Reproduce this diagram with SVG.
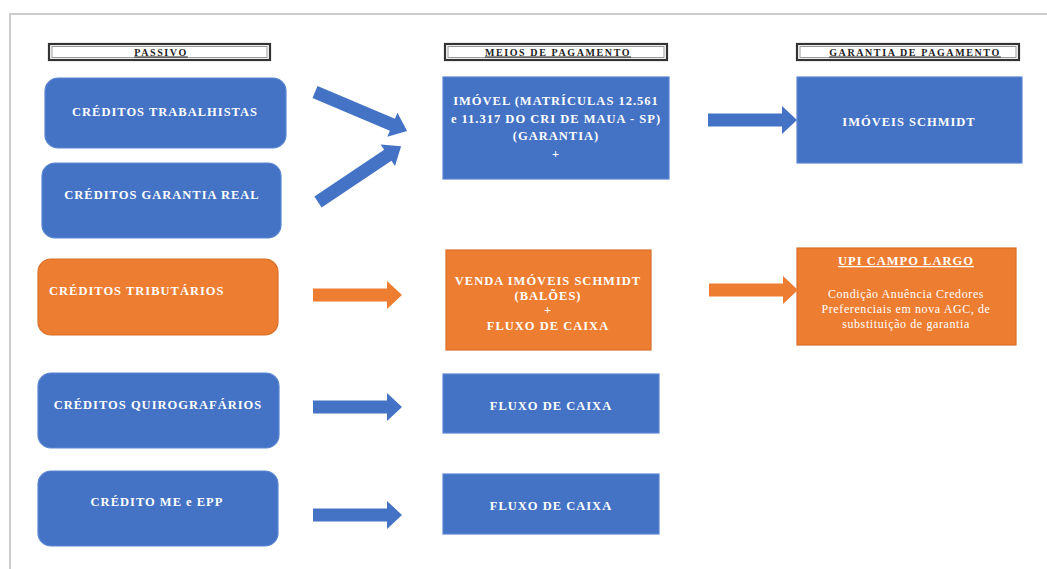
<svg xmlns="http://www.w3.org/2000/svg" width="1047" height="569" viewBox="0 0 1047 569">
<style>
.bg{fill:#ffffff}
.frame{fill:none;stroke:#cccccc;stroke-width:2}
.hdr{fill:#ffffff;stroke:#333333;stroke-width:2.2}
.hdrin{fill:none;stroke:#9a9a9a;stroke-width:1}
.htxt{font-family:"Liberation Serif",serif;font-weight:bold;font-size:10px;letter-spacing:1.6px;fill:#222222;text-anchor:middle;text-decoration:underline}
.blue{fill:#4472C4;stroke:#5a86d2;stroke-width:1.2}
.orange{fill:#ED7D31;stroke:#d86f28;stroke-width:1.2}
.t{font-family:"Liberation Serif",serif;font-weight:bold;font-size:12.5px;letter-spacing:1px;fill:#ffffff;text-anchor:middle}
.tl{font-family:"Liberation Serif",serif;font-weight:bold;font-size:12.5px;letter-spacing:1px;fill:#ffffff}
.tn{font-family:"Liberation Serif",serif;font-size:12px;letter-spacing:0.6px;fill:#ffffff;text-anchor:middle}
.ab{fill:#4472C4}
.ao{fill:#ED7D31}
</style>
<defs>
<polygon id="harrow" points="0,-6.5 74,-6.5 74,-14 89,0 74,14 74,6.5 0,6.5"/>
<polygon id="darrow" points="0,-6.5 84,-6.5 84,-13 100,0 84,13 84,6.5 0,6.5"/>
</defs>
<rect class="bg" x="0" y="0" width="1047" height="569"/>
<path class="frame" d="M10,569 V14 H1047"/>

<g id="header-passivo">
<rect class="hdr" x="49" y="44" width="221" height="16"/>
<rect class="hdrin" x="52" y="46.5" width="215" height="11"/>
<text class="htxt" x="161" y="55.5">PASSIVO</text>
</g>
<g id="header-meios">
<rect class="hdr" x="445" y="44" width="222" height="16"/>
<rect class="hdrin" x="448" y="46.5" width="216" height="11"/>
<text class="htxt" x="558" y="55.5">MEIOS DE PAGAMENTO</text>
</g>
<g id="header-garantia">
<rect class="hdr" x="797" y="44" width="222" height="16"/>
<rect class="hdrin" x="800" y="46.5" width="216" height="11"/>
<text class="htxt" x="915" y="55.5">GARANTIA DE PAGAMENTO</text>
</g>

<g id="node-trabalhistas">
<rect class="blue" x="45" y="78" width="241" height="70" rx="13"/>
<text class="t" x="165" y="116">CRÉDITOS TRABALHISTAS</text>
</g>
<g id="node-garantia-real">
<rect class="blue" x="42" y="163" width="239" height="75" rx="13"/>
<text class="t" x="162" y="199">CRÉDITOS GARANTIA REAL</text>
</g>
<g id="node-tributarios">
<rect class="orange" x="38" y="259" width="240" height="76" rx="13"/>
<text class="tl" x="49" y="295">CRÉDITOS TRIBUTÁRIOS</text>
</g>
<g id="node-quirografarios">
<rect class="blue" x="38" y="373" width="241" height="75" rx="13"/>
<text class="t" x="158" y="409">CRÉDITOS QUIROGRAFÁRIOS</text>
</g>
<g id="node-me-epp">
<rect class="blue" x="38" y="471" width="240" height="75" rx="13"/>
<text class="t" x="157" y="506">CRÉDITO ME e EPP</text>
</g>

<g id="node-imovel">
<rect class="blue" x="443" y="77" width="226" height="102"/>
<text class="t" x="556" y="105">IMÓVEL (MATRÍCULAS 12.561</text>
<text class="t" x="556" y="123">e 11.317 DO CRI DE MAUA - SP)</text>
<text class="t" x="556" y="140">(GARANTIA)</text>
<text class="t" x="556" y="158" font-size="9">+</text>
</g>
<g id="node-imoveis-schmidt">
<rect class="blue" x="797" y="77" width="225" height="86"/>
<text class="t" x="909" y="126">IMÓVEIS SCHMIDT</text>
</g>
<g id="node-venda">
<rect class="orange" x="446" y="250" width="205" height="100"/>
<text class="t" x="548" y="285">VENDA IMÓVEIS SCHMIDT</text>
<text class="t" x="548" y="300">(BALÕES)</text>
<text class="t" x="548" y="314" font-size="8">+</text>
<text class="t" x="548" y="330">FLUXO DE CAIXA</text>
</g>
<g id="node-upi">
<rect class="orange" x="797" y="248" width="219" height="97"/>
<text class="t" x="906" y="265" text-decoration="underline">UPI CAMPO LARGO</text>
<text class="tn" x="906" y="298">Condição Anuência Credores</text>
<text class="tn" x="906" y="313">Preferenciais em nova AGC, de</text>
<text class="tn" x="906" y="328">substituição de garantia</text>
</g>
<g id="node-fluxo-1">
<rect class="blue" x="443" y="374" width="216" height="59"/>
<text class="t" x="551" y="410">FLUXO DE CAIXA</text>
</g>
<g id="node-fluxo-2">
<rect class="blue" x="443" y="474" width="216" height="60"/>
<text class="t" x="551" y="510">FLUXO DE CAIXA</text>
</g>

<g id="connectors">
<use href="#darrow" class="ab" transform="translate(315,92) rotate(22.9)"/>
<use href="#darrow" class="ab" transform="translate(318,202) rotate(-33.8)"/>
<use href="#harrow" class="ab" transform="translate(708,120)"/>
<use href="#harrow" class="ao" transform="translate(313,295)"/>
<use href="#harrow" class="ao" transform="translate(709,290)"/>
<use href="#harrow" class="ab" transform="translate(313,407)"/>
<use href="#harrow" class="ab" transform="translate(313,515)"/>
</g>
</svg>
